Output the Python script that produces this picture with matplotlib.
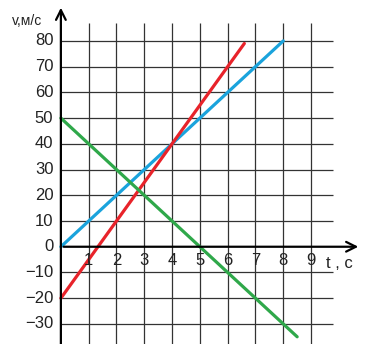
import matplotlib
matplotlib.use("Agg")
import matplotlib.pyplot as plt

# data
t_ticks = [1, 2, 3, 4, 5, 6, 7, 8, 9]
v_ticks = [-30, -20, -10, 0, 10, 20, 30, 40, 50, 60, 70, 80]
blue_t = [0, 8]
blue_v = [0, 80]
red_t = [0, 6.6]
red_v = [-20, 79]
green_t = [0, 8.5]
green_v = [50, -35]

plt.rcParams['font.family'] = ['Liberation Sans', 'DejaVu Sans']

fig = plt.figure(figsize=(3.7, 3.44), dpi=100)
ax = fig.add_axes([0, 0, 1, 1])
ax.set_xlim(-2.19, 11.12)
ax.set_ylim(-37.8, 95.9)
ax.axis('off')

# grid
ax.vlines(t_ticks, -40, 87, color='#333333', lw=0.9, zorder=1)
ax.hlines([v for v in v_ticks if v != 0], 0, 9.8, color='#333333', lw=0.9, zorder=1)

# lines
ax.plot(blue_t, blue_v, color='#1aa3dc', lw=2.3, zorder=3, solid_capstyle='round')
ax.plot(red_t, red_v, color='#e8232a', lw=2.3, zorder=3, solid_capstyle='round')
ax.plot(green_t, green_v, color='#2fa84a', lw=2.3, zorder=3, solid_capstyle='round')

# axes with arrows
ax.annotate('', xy=(0, 94), xytext=(0, -40),
            arrowprops=dict(arrowstyle='->,head_length=0.7,head_width=0.35', lw=1.6, color='black'), zorder=4)
ax.annotate('', xy=(10.8, 0), xytext=(0, 0),
            arrowprops=dict(arrowstyle='->,head_length=0.7,head_width=0.35', lw=1.6, color='black'), zorder=4)

# tick labels
for v in v_ticks:
    lbl = str(v).replace('-', '\u2212')
    ax.text(-0.27, v, lbl, ha='right', va='center', fontsize=12, color='#222222')
for t in t_ticks:
    ax.text(t, -2.5, str(t), ha='center', va='top', fontsize=12, color='#222222')

ax.text(9.55, -6.5, 't , c', ha='left', va='center', fontsize=12, color='#222222')
ax.text(-1.75, 87.8, 'v,м/с', ha='left', va='center', fontsize=10, color='#222222')

fig.savefig('out.png', dpi=100)
